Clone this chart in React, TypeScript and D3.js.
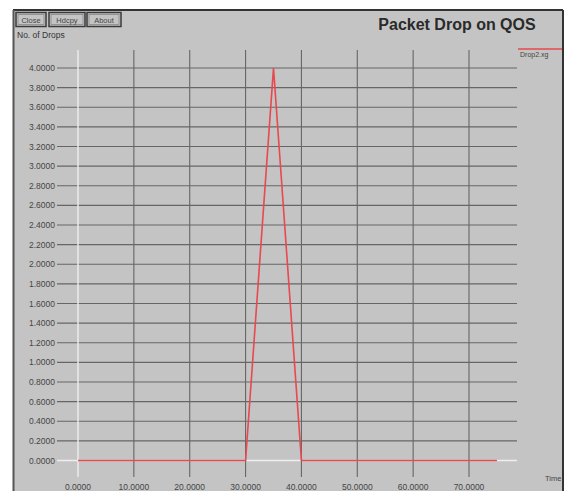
import React from "react";
import * as d3 from "d3";

const times = [0, 5, 10, 15, 20, 25, 30, 35, 40, 45, 50, 55, 60, 65, 70, 75];
const drops = [0, 0, 0, 0, 0, 0, 0, 4, 0, 0, 0, 0, 0, 0, 0, 0];
const xTicks = [0, 10, 20, 30, 40, 50, 60, 70];
const yTicks = d3.range(0, 21).map((i) => i * 0.2);
const buttons = ["Close", "Hdcpy", "About"];
const title = "Packet Drop on QOS";
const yLabel = "No. of Drops";
const xLabel = "Time";
const seriesName = "Drop2.xg";

const W = 568;
const H = 491;

export default function App() {
  const x = d3.scaleLinear().domain([0, 70]).range([78, 469]);
  const y = d3.scaleLinear().domain([0, 4]).range([460.5, 68]);
  const line = d3
    .line<number>()
    .x((_, i) => x(times[i]))
    .y((d) => y(d));
  const gridLeft = 57;
  const gridRight = 517;
  const gridTop = 50;
  const gridBottom = 477;
  const font = "'Liberation Sans', Arial, sans-serif";
  const btnX = [16, 49, 87];
  const btnW = [30, 36, 34];
  return (
    <svg
      width={W}
      height={H}
      style={{ position: "fixed", left: 0, top: 0, background: "#fff" }}
      fontFamily={font}
    >
      <rect x={0} y={0} width={W} height={H} fill="#fff" />
      <rect x={13} y={10} width={550} height={H} fill="#c4c4c4" />
      <line x1={13} y1={10} x2={563} y2={10} stroke="#333" strokeWidth={2} />
      <line x1={13.5} y1={10} x2={13.5} y2={H} stroke="#555" strokeWidth={2} />
      <line x1={563} y1={10} x2={563} y2={H} stroke="#333" strokeWidth={2} />
      {buttons.map((b, i) => (
        <g key={b}>
          <rect x={btnX[i]} y={12.5} width={btnW[i]} height={14} fill="#c4c4c4" stroke="#3a3a3a" strokeWidth={1.5} />
          <rect x={btnX[i] + 2} y={14.5} width={btnW[i] - 4} height={10} fill="none" stroke="#888" strokeWidth={0.8} />
          <text x={btnX[i] + btnW[i] / 2} y={22.5} fontSize={7.5} textAnchor="middle" fill="#444">
            {b}
          </text>
        </g>
      ))}
      <text x={17} y={38} fontSize={8.5} fill="#333">
        {yLabel}
      </text>
      <text x={457} y={30} fontSize={16} fontWeight="bold" textAnchor="middle" fill="#2a2a2a">
        {title}
      </text>
      {yTicks.map((t) => (
        <g key={t}>
          <line
            x1={gridLeft}
            x2={gridRight}
            y1={y(t)}
            y2={y(t)}
            stroke={t === 0 ? "#eeeeee" : "#666"}
            strokeWidth={t === 0 ? 1.4 : 1.1}
          />
          <text x={55} y={y(t) + 3} fontSize={8.5} textAnchor="end" fill="#444">
            {t.toFixed(4)}
          </text>
        </g>
      ))}
      {xTicks.map((t) => (
        <g key={t}>
          <line
            x1={x(t)}
            x2={x(t)}
            y1={gridTop}
            y2={gridBottom}
            stroke={t === 0 ? "#eeeeee" : "#666"}
            strokeWidth={t === 0 ? 1.4 : 1.1}
          />
          <text x={x(t)} y={490} fontSize={8.5} textAnchor="middle" fill="#444">
            {t.toFixed(4)}
          </text>
        </g>
      ))}
      <path d={line(drops) || ""} fill="none" stroke="#e8484f" strokeWidth={1.6} />
      <line x1={518} x2={562} y1={49} y2={49} stroke="#e8484f" strokeWidth={1.5} />
      <text x={520} y={57} fontSize={7} fill="#444">
        {seriesName}
      </text>
      <text x={545} y={481} fontSize={7.5} fill="#444">
        {xLabel}
      </text>
    </svg>
  );
}
